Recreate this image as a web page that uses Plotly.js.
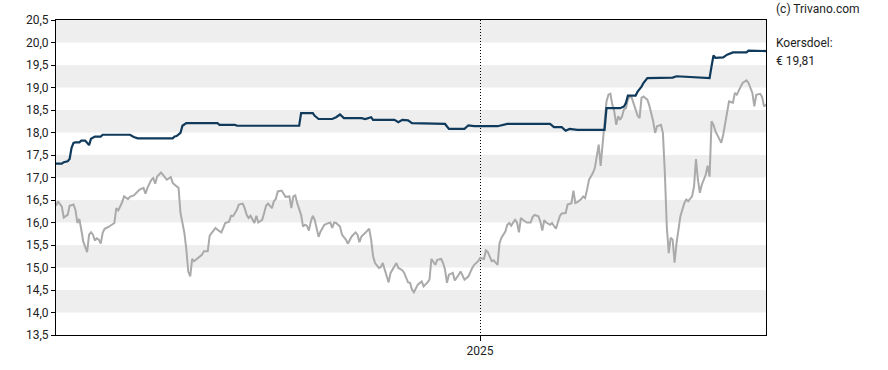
<!DOCTYPE html>
<html>
<head>
<meta charset="utf-8">
<script src="https://cdn.plot.ly/plotly-3.0.1.min.js"></script>
<style>
html,body{margin:0;padding:0;background:#fff;}
#chart{width:888px;height:370px;}
</style>
</head>
<body>
<div id="chart"></div>
<script>
// Koers (slotkoers)
var priceDates = [
"2024-05-28","2024-05-29","2024-05-31","2024-06-01","2024-06-03","2024-06-04","2024-06-06","2024-06-07","2024-06-08","2024-06-09",
"2024-06-10","2024-06-11","2024-06-13","2024-06-14","2024-06-15","2024-06-16","2024-06-17","2024-06-18","2024-06-19","2024-06-20",
"2024-06-21","2024-06-22","2024-06-24","2024-06-25","2024-06-27","2024-06-28","2024-06-29","2024-07-01","2024-07-02","2024-07-04",
"2024-07-05","2024-07-07","2024-07-09","2024-07-10","2024-07-12","2024-07-13","2024-07-14","2024-07-16","2024-07-17","2024-07-18",
"2024-07-19","2024-07-21","2024-07-22","2024-07-24","2024-07-26","2024-07-27","2024-07-28","2024-07-30","2024-07-31","2024-08-02",
"2024-08-03","2024-08-04","2024-08-05","2024-08-06","2024-08-07","2024-08-09","2024-08-11","2024-08-12","2024-08-14","2024-08-15",
"2024-08-16","2024-08-18","2024-08-19","2024-08-21","2024-08-22","2024-08-23","2024-08-25","2024-08-26","2024-08-27","2024-08-29",
"2024-08-30","2024-09-01","2024-09-02","2024-09-03","2024-09-04","2024-09-05","2024-09-07","2024-09-08","2024-09-09","2024-09-11",
"2024-09-12","2024-09-13","2024-09-14","2024-09-16","2024-09-17","2024-09-18","2024-09-19","2024-09-21","2024-09-22","2024-09-23",
"2024-09-25","2024-09-26","2024-09-27","2024-09-28","2024-09-29","2024-10-01","2024-10-02","2024-10-03","2024-10-04","2024-10-05",
"2024-10-06","2024-10-07","2024-10-08","2024-10-10","2024-10-11","2024-10-13","2024-10-14","2024-10-16","2024-10-17","2024-10-18",
"2024-10-19","2024-10-21","2024-10-22","2024-10-24","2024-10-25","2024-10-27","2024-10-29","2024-10-30","2024-10-31","2024-11-01",
"2024-11-03","2024-11-05","2024-11-06","2024-11-07","2024-11-08","2024-11-10","2024-11-11","2024-11-12","2024-11-13","2024-11-15",
"2024-11-16","2024-11-18","2024-11-19","2024-11-20","2024-11-22","2024-11-23","2024-11-24","2024-11-25","2024-11-26","2024-11-27",
"2024-11-28","2024-11-30","2024-12-02","2024-12-03","2024-12-05","2024-12-06","2024-12-07","2024-12-09","2024-12-10","2024-12-12",
"2024-12-13","2024-12-14","2024-12-15","2024-12-16","2024-12-18","2024-12-19","2024-12-21","2024-12-22","2024-12-24","2024-12-26",
"2024-12-28","2024-12-29","2024-12-31","2025-01-01","2025-01-03","2025-01-04","2025-01-05","2025-01-07","2025-01-08","2025-01-10",
"2025-01-11","2025-01-12","2025-01-14","2025-01-15","2025-01-16","2025-01-17","2025-01-19","2025-01-20","2025-01-21","2025-01-22",
"2025-01-23","2025-01-25","2025-01-27","2025-01-28","2025-01-29","2025-01-31","2025-02-01","2025-02-02","2025-02-03","2025-02-04",
"2025-02-06","2025-02-07","2025-02-09","2025-02-10","2025-02-11","2025-02-12","2025-02-14","2025-02-15","2025-02-17","2025-02-18",
"2025-02-19","2025-02-20","2025-02-22","2025-02-23","2025-02-24","2025-02-25","2025-02-26","2025-02-28","2025-03-01","2025-03-02",
"2025-03-03","2025-03-04","2025-03-05","2025-03-06","2025-03-07","2025-03-08","2025-03-09","2025-03-10","2025-03-11","2025-03-12",
"2025-03-13","2025-03-14","2025-03-15","2025-03-16","2025-03-17","2025-03-18","2025-03-19","2025-03-20","2025-03-22","2025-03-23",
"2025-03-24","2025-03-25","2025-03-26","2025-03-28","2025-03-29","2025-03-31","2025-04-01","2025-04-02","2025-04-04","2025-04-05",
"2025-04-06","2025-04-07","2025-04-08","2025-04-09","2025-04-10","2025-04-11","2025-04-12","2025-04-13","2025-04-14","2025-04-16",
"2025-04-17","2025-04-18","2025-04-20","2025-04-21","2025-04-22","2025-04-23","2025-04-24","2025-04-25","2025-04-26","2025-04-27",
"2025-04-28","2025-04-29","2025-04-30","2025-05-01","2025-05-02","2025-05-04","2025-05-05","2025-05-06","2025-05-07","2025-05-08",
"2025-05-09","2025-05-11","2025-05-12","2025-05-13","2025-05-14","2025-05-15","2025-05-16","2025-05-18","2025-05-19","2025-05-20",
"2025-05-21","2025-05-22","2025-05-23","2025-05-25","2025-05-26","2025-05-27","2025-05-28"
];
var priceValues = [
16.37,16.47,16.35,16.11,16.17,16.37,16.40,16.28,15.99,16.08,
15.84,15.58,15.34,15.73,15.78,15.73,15.60,15.65,15.62,15.53,
15.77,15.86,15.90,15.93,15.99,16.32,16.27,16.45,16.58,16.52,
16.57,16.60,16.69,16.73,16.77,16.64,16.77,16.95,16.99,16.86,
17.02,17.11,17.06,16.95,17.01,16.88,16.84,16.77,16.21,15.77,
15.40,14.91,14.80,15.19,15.14,15.21,15.28,15.36,15.36,15.71,
15.77,15.88,15.84,15.78,15.88,15.99,16.02,16.15,16.14,16.28,
16.40,16.42,16.32,16.17,16.10,16.15,15.99,16.15,16.00,16.06,
16.21,16.37,16.42,16.32,16.47,16.52,16.69,16.71,16.64,16.57,
16.58,16.32,16.58,16.60,16.43,16.17,15.91,15.95,15.93,15.82,
16.02,16.15,16.06,15.68,15.80,15.95,15.97,16.00,15.88,16.00,
15.99,15.91,15.73,15.62,15.53,15.69,15.78,15.73,15.56,15.69,
15.77,15.86,15.62,15.25,15.10,14.99,15.01,15.10,14.95,14.67,
14.88,15.01,15.10,14.99,14.94,14.88,14.79,14.67,14.66,14.51,
14.45,14.62,14.69,14.58,14.67,14.73,15.19,15.06,15.17,15.19,
15.10,14.95,14.66,14.84,14.88,14.71,14.84,14.91,14.73,14.80,
14.99,15.06,15.14,15.21,15.19,15.38,15.34,15.14,15.16,15.06,
15.54,15.66,15.80,15.95,15.99,15.93,16.06,16.00,15.78,16.10,
16.06,16.00,16.00,16.12,16.17,16.14,16.02,15.82,16.05,16.00,
15.95,15.99,15.86,16.00,16.14,16.20,16.21,16.40,16.43,16.71,
16.43,16.45,16.52,16.58,16.54,16.73,16.95,17.10,17.21,17.47,
17.73,17.26,17.69,18.14,18.69,18.84,18.86,18.62,18.47,18.17,
18.36,18.28,18.36,18.52,18.54,18.73,18.80,18.77,18.47,18.37,
18.32,18.77,18.80,18.73,18.60,18.25,17.99,18.14,18.17,17.99,
17.10,15.91,15.32,15.66,15.62,15.11,15.54,15.80,16.14,16.43,
16.51,16.47,16.58,16.80,17.41,16.95,16.66,16.84,16.95,17.06,
17.26,17.02,18.25,18.17,18.03,17.84,17.77,17.95,18.17,18.40,
18.69,18.66,18.88,18.84,18.95,19.02,19.10,19.16,19.10,18.99,
18.88,18.58,18.84,18.86,18.79,18.58,18.62
];

// Koersdoel (gemiddeld koersdoel analisten)
var targetDates = [
"2024-05-28","2024-05-31","2024-06-01","2024-06-03","2024-06-04","2024-06-05","2024-06-06","2024-06-07","2024-06-09","2024-06-10",
"2024-06-12","2024-06-13","2024-06-14","2024-06-15","2024-06-17","2024-06-20","2024-06-21","2024-07-05","2024-07-07","2024-07-09",
"2024-07-27","2024-07-28","2024-07-29","2024-07-31","2024-08-01","2024-08-03","2024-08-19","2024-08-20","2024-08-28","2024-08-29",
"2024-09-30","2024-10-01","2024-10-07","2024-10-08","2024-10-10","2024-10-17","2024-10-19","2024-10-21","2024-10-23","2024-11-01",
"2024-11-03","2024-11-06","2024-11-07","2024-11-18","2024-11-20","2024-11-22","2024-11-25","2024-11-27","2024-12-14","2024-12-16",
"2024-12-24","2024-12-26","2024-12-29","2025-01-10","2025-01-15","2025-02-06","2025-02-08","2025-02-12","2025-02-14","2025-02-16",
"2025-02-20","2025-03-06","2025-03-07","2025-03-14","2025-03-16","2025-03-17","2025-03-18","2025-03-22","2025-03-23","2025-03-25",
"2025-03-26","2025-03-28","2025-04-10","2025-04-12","2025-04-18","2025-04-29","2025-04-30","2025-05-01","2025-05-02","2025-05-06",
"2025-05-08","2025-05-11","2025-05-18","2025-05-19","2025-05-28"
];
var targetValues = [
17.31,17.31,17.34,17.36,17.41,17.66,17.77,17.78,17.78,17.82,
17.82,17.78,17.72,17.86,17.91,17.91,17.95,17.95,17.90,17.87,
17.87,17.91,17.92,17.99,18.15,18.21,18.21,18.17,18.17,18.15,
18.15,18.43,18.43,18.37,18.30,18.30,18.34,18.40,18.32,18.32,
18.30,18.34,18.28,18.28,18.23,18.28,18.27,18.21,18.19,18.08,
18.08,18.16,18.14,18.14,18.19,18.19,18.12,18.12,18.04,18.08,
18.06,18.06,18.54,18.54,18.58,18.66,18.82,18.82,18.91,19.02,
19.10,19.21,19.22,19.25,19.24,19.21,19.47,19.71,19.66,19.67,
19.73,19.78,19.78,19.82,19.81
];

var yTickVals = [13.5,14.0,14.5,15.0,15.5,16.0,16.5,17.0,17.5,18.0,18.5,19.0,19.5,20.0,20.5];
var bandStarts = [14.0,15.0,16.0,17.0,18.0,19.0,20.0];
var xTickVals = ["2025-01-01"];
var xTickText = ["2025"];
var sourceText = "(c) Trivano.com";
var targetLabel = "Koersdoel:";
var targetText = "€ 19,81";

var shapes = bandStarts.map(function(b){
  return {type:"rect", xref:"paper", x0:0, x1:1, yref:"y", y0:b, y1:b+0.5,
          fillcolor:"#eeeeee", line:{width:0}, layer:"below"};
});

var font = {family:"Roboto, 'Open Sans', sans-serif", size:12, color:"#222"};

var traces = [
  {x:priceDates, y:priceValues, type:"scatter", mode:"lines",
   line:{color:"#aaaaaa", width:2}, hoverinfo:"skip"},
  {x:targetDates, y:targetValues, type:"scatter", mode:"lines",
   line:{color:"#0f3a5c", width:2.2}, hoverinfo:"skip"}
];

var layout = {
  width:888, height:370,
  margin:{l:56, r:122, t:20, b:35, pad:0},
  paper_bgcolor:"#fff", plot_bgcolor:"#fff",
  separators:",.",
  showlegend:false,
  font:font,
  xaxis:{type:"date", range:["2024-05-28","2025-05-28"],
         tickvals:xTickVals, ticktext:xTickText,
         ticks:"outside", ticklen:5, tickcolor:"#000", tickwidth:1,
         showline:true, mirror:true, linecolor:"#000", linewidth:1,
         showgrid:true, gridcolor:"#000", griddash:"1px,2px", gridwidth:1,
         zeroline:false, tickfont:font, fixedrange:true},
  yaxis:{range:[13.5,20.5], tickvals:yTickVals, tickformat:".1f",
         ticks:"outside", ticklen:4, tickcolor:"#000", tickwidth:1,
         showline:true, mirror:true, linecolor:"#000", linewidth:1,
         showgrid:false, zeroline:false, tickfont:font, fixedrange:true},
  shapes:shapes,
  annotations:[
    {xref:"paper", yref:"paper", x:1.0113, y:1.035, xanchor:"left", yanchor:"middle",
     text:sourceText, showarrow:false, font:font},
    {xref:"paper", yref:"paper", x:1.0113, y:0.928, xanchor:"left", yanchor:"middle",
     text:targetLabel, showarrow:false, font:font},
    {xref:"paper", yref:"paper", x:1.0113, y:0.871, xanchor:"left", yanchor:"middle",
     text:targetText, showarrow:false, font:font}
  ]
};

Plotly.newPlot("chart", traces, layout, {displayModeBar:false, staticPlot:true});
</script>
</body>
</html>
